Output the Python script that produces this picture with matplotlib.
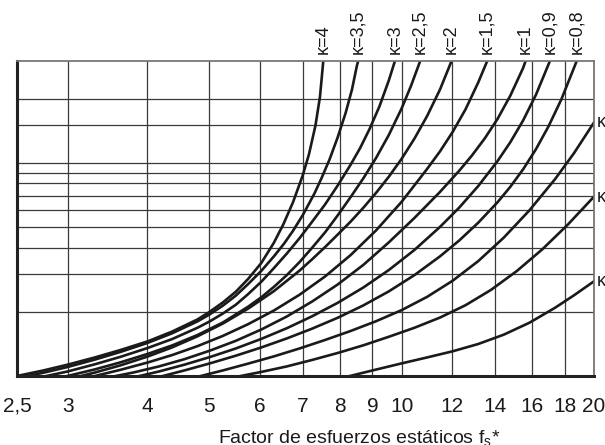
import matplotlib
matplotlib.use('Agg')
import matplotlib.pyplot as plt
from matplotlib.ticker import NullLocator

plt.rcParams['font.family'] = ['Liberation Sans', 'DejaVu Sans']
plt.rcParams['mathtext.default'] = 'regular'

# --- data: static stress factor fs* (x) vs factor s (y) ---
x_ticks = [2.5, 3, 4, 5, 6, 7, 8, 9, 10, 12, 14, 16, 18, 20]
x_tick_labels = ['2,5', '3', '4', '5', '6', '7', '8', '9', '10', '12', '14', '16', '18', '20']
y_grid = [2, 3, 4, 5, 6, 7, 8, 9, 10, 15, 20]

k4_fs = [2.5, 2.75, 3.0, 3.31, 3.63, 4.0, 4.37, 4.79, 5.0, 5.25, 5.50, 5.75, 6.03,
         6.31, 6.53, 6.76, 7.00, 7.16, 7.33, 7.45, 7.53, 7.54]
k4_s = [1, 1.062, 1.130, 1.222, 1.324, 1.452, 1.614, 1.841, 1.995, 2.213, 2.483, 2.851,
        3.388, 4.217, 5.152, 6.531, 8.710, 10.96, 14.96, 20.42, 28.84, 30]

k35_fs = [2.6, 2.75, 3.0, 3.31, 3.63, 4.0, 4.37, 4.79, 5.0, 5.25, 5.50, 5.75, 6.03,
          6.31, 6.55, 6.76, 7.00, 7.30, 7.50, 7.71, 7.94, 8.17, 8.36, 8.51, 8.55]
k35_s = [1, 1.036, 1.102, 1.194, 1.297, 1.429, 1.585, 1.803, 1.941, 2.138, 2.382, 2.698,
         3.112, 3.639, 4.188, 4.797, 5.675, 7.161, 8.531, 10.35, 13.15, 17.10, 22.03, 28.51, 30]

k3_fs = [2.78, 3.0, 3.31, 3.63, 4.0, 4.37, 4.79, 5.0, 5.25, 5.50, 5.75, 6.03, 6.31,
         6.61, 6.92, 7.24, 7.59, 7.94, 8.32, 8.61, 8.91, 9.23, 9.55, 9.76]
k3_s = [1, 1.050, 1.135, 1.230, 1.352, 1.489, 1.683, 1.799, 1.963, 2.158, 2.421, 2.767,
        3.206, 3.750, 4.426, 5.284, 6.383, 7.816, 9.795, 11.72, 14.42, 18.37, 24.38, 30]

k25_fs = [3.0, 3.31, 3.63, 4.0, 4.37, 4.79, 5.25, 5.75, 6.03, 6.31, 6.61, 6.92, 7.24,
          7.59, 7.94, 8.32, 8.71, 9.12, 9.55, 10.0, 10.35, 10.69]
k25_s = [1, 1.074, 1.159, 1.268, 1.390, 1.556, 1.782, 2.113, 2.339, 2.618, 2.972, 3.420,
         3.990, 4.721, 5.662, 6.902, 8.453, 10.54, 13.52, 17.99, 23.07, 30]

k2_fs = [3.15, 3.31, 3.63, 4.0, 4.37, 4.79, 5.25, 5.75, 6.31, 6.92, 7.24, 7.59, 7.94,
         8.32, 8.71, 9.12, 9.55, 10.0, 10.47, 10.96, 11.48, 11.97]
k2_s = [1, 1.038, 1.122, 1.233, 1.361, 1.535, 1.762, 2.070, 2.500, 3.119, 3.524, 4.027,
        4.603, 5.297, 6.152, 7.228, 8.610, 10.44, 12.97, 16.56, 22.03, 30]

k15_fs = [3.31, 3.63, 4.0, 4.37, 4.79, 5.25, 5.75, 6.31, 6.92, 7.59, 8.32, 9.12, 10.0,
          10.96, 11.48, 12.02, 12.59, 13.18, 13.61]
k15_s = [1, 1.069, 1.156, 1.253, 1.380, 1.542, 1.750, 2.028, 2.404, 2.931, 3.690, 4.819,
         6.561, 9.354, 11.30, 13.96, 17.82, 23.82, 30]

k1_fs = [3.57, 3.80, 4.17, 4.57, 5.01, 5.50, 6.03, 6.61, 7.24, 7.94, 8.71, 9.55, 10.47,
         11.48, 12.30, 12.88, 13.49, 14.13, 14.79, 15.49, 15.63]
k1_s = [1, 1.038, 1.109, 1.199, 1.315, 1.462, 1.652, 1.901, 2.234, 2.685, 3.319, 4.236,
        5.508, 7.295, 9.162, 10.81, 13.00, 16.07, 20.61, 27.80, 30]

k09_fs = [3.89, 4.17, 4.57, 5.01, 5.50, 6.03, 6.61, 7.24, 7.94, 8.71, 9.55, 10.47, 11.48,
          12.30, 13.18, 14.13, 14.79, 15.49, 16.22, 16.98, 17.06]
k09_s = [1, 1.050, 1.130, 1.227, 1.346, 1.493, 1.675, 1.905, 2.203, 2.600, 3.141, 3.899,
         5.000, 6.152, 7.780, 10.19, 12.47, 15.78, 20.80, 28.97, 30]

k08_fs = [4.23, 4.57, 5.01, 5.50, 6.03, 6.61, 7.24, 7.94, 8.71, 9.55, 10.47, 11.48, 12.30,
          13.18, 14.13, 14.79, 15.49, 16.22, 16.98, 17.78, 18.62, 18.79]
k08_s = [1, 1.062, 1.146, 1.245, 1.361, 1.500, 1.667, 1.875, 2.143, 2.495, 2.972, 3.639,
         4.315, 5.236, 6.531, 7.709, 9.311, 11.56, 14.83, 19.82, 27.99, 30]

k07_fs = [4.85, 5.25, 5.75, 6.31, 6.92, 7.59, 8.32, 9.12, 10.0, 10.96, 12.02, 13.18, 14.45,
          15.85, 17.38, 18.62, 20.0]
k07_s = [1, 1.062, 1.143, 1.236, 1.346, 1.476, 1.626, 1.807, 2.037, 2.350, 2.799, 3.459,
         4.457, 5.984, 8.375, 11.12, 15.45]

k06_fs = [5.60, 6.03, 6.61, 7.24, 7.94, 8.71, 9.55, 10.47, 11.48, 12.59, 13.80, 15.14,
          16.60, 18.20, 20.0]
k06_s = [1, 1.045, 1.109, 1.189, 1.282, 1.393, 1.528, 1.683, 1.879, 2.148, 2.535, 3.105,
         3.926, 5.129, 6.934]

k05_fs = [8.30, 9.12, 10.0, 10.96, 12.02, 13.18, 14.45, 15.85, 17.38, 18.62, 20.0]
k05_s = [1, 1.072, 1.146, 1.222, 1.306, 1.413, 1.563, 1.778, 2.089, 2.393, 2.780]

# curves that leave through the top edge, labelled above the frame
top_curves = [
    ('κ=4', k4_fs, k4_s),
    ('κ=3,5', k35_fs, k35_s),
    ('κ=3', k3_fs, k3_s),
    ('κ=2,5', k25_fs, k25_s),
    ('κ=2', k2_fs, k2_s),
    ('κ=1,5', k15_fs, k15_s),
    ('κ=1', k1_fs, k1_s),
    ('κ=0,9', k09_fs, k09_s),
    ('κ=0,8', k08_fs, k08_s),
]
# curves that leave through the right edge (labels run off the page edge)
side_curves = [
    ('κ=0,7', k07_fs, k07_s),
    ('κ=0,6', k06_fs, k06_s),
    ('κ=0,5', k05_fs, k05_s),
]

fig = plt.figure(figsize=(6.05, 4.45), dpi=100)
ax = fig.add_axes([17 / 605, (445 - 376) / 445, 577 / 605, 315 / 445])
ax.set_xscale('log')
ax.set_yscale('log')
ax.set_xlim(2.5, 20)
ax.set_ylim(1, 30)

# grid
ax.set_xticks(x_ticks)
ax.set_xticklabels(x_tick_labels)
ax.xaxis.set_minor_locator(NullLocator())
ax.set_yticks(y_grid)
ax.set_yticklabels([])
ax.yaxis.set_minor_locator(NullLocator())
ax.tick_params(axis='both', length=0)
ax.tick_params(axis='x', pad=15, labelsize=15, colors='#1a1a1a')
ax.grid(True, which='major', color='#3a3a3a', lw=0.9)
ax.set_axisbelow(True)

for name in ['left', 'bottom']:
    ax.spines[name].set_linewidth(2.2)
    ax.spines[name].set_color('#222222')
for name in ['top', 'right']:
    ax.spines[name].set_linewidth(1.3)
    ax.spines[name].set_color('#777777')

# curves
for label, fs, s in top_curves:
    ax.plot(fs, s, color='#1a1a1a', lw=1.9, solid_joinstyle='round')
    ax.annotate(label, xy=(fs[-1], s[-1]), xytext=(0, 5), textcoords='offset points',
                rotation=90, ha='center', va='bottom', fontsize=13, color='#1a1a1a',
                annotation_clip=False)

for label, fs, s in side_curves:
    ax.plot(fs, s, color='#1a1a1a', lw=1.9, solid_joinstyle='round')
    ax.annotate(label, xy=(fs[-1], s[-1]), xytext=(2, 0), textcoords='offset points',
                ha='left', va='center', fontsize=13, color='#1a1a1a',
                annotation_clip=False)

ax.set_xlabel('Factor de esfuerzos estáticos $f_s$*', fontsize=14, color='#1a1a1a')
ax.xaxis.set_label_coords(0.593, -0.165)

fig.savefig('out.png', dpi=100)
